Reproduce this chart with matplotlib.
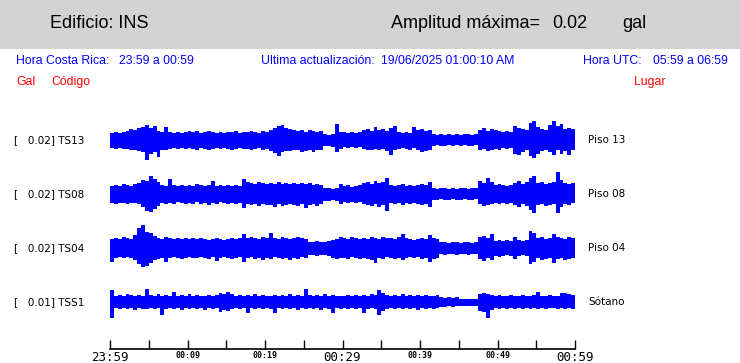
import numpy as np
import matplotlib
matplotlib.use('Agg')
import matplotlib.pyplot as plt
from matplotlib.patches import Rectangle

# --------        data        --------
codes = ['TS13', 'TS08', 'TS04', 'TSS1']
places = ['Piso 13', 'Piso 08', 'Piso 04', 'Sótano']
scales = ['0.02', '0.02', '0.02', '0.01']

tick_minutes = list(range(0, 61, 5))
tick_labels = {0: '23:59', 10: '00:09', 20: '00:19', 30: '00:29',
               40: '00:39', 50: '00:49', 60: '00:59'}

# envelope of each trace, half-minute columns (counts above / below zero)
ts13_up = [7, 8, 7, 8, 9, 11, 10, 12, 13, 15, 12, 14, 9, 8, 13, 8, 7, 8, 7, 8,
           9, 8, 9, 7, 8, 9, 8, 7, 8, 7, 8, 8, 9, 7, 8, 8, 9, 8, 7, 9,
           8, 10, 12, 14, 15, 12, 11, 10, 9, 10, 8, 10, 9, 8, 9, 6, 5, 6, 16, 8,
           8, 7, 8, 7, 8, 10, 11, 9, 13, 10, 11, 9, 12, 14, 8, 7, 8, 7, 13, 10,
           11, 9, 10, 6, 5, 6, 5, 6, 5, 6, 5, 6, 6, 5, 6, 10, 12, 9, 11, 10,
           9, 8, 9, 8, 14, 12, 11, 10, 17, 19, 13, 11, 10, 15, 19, 14, 16, 11, 12, 11]
ts13_dn = [8, 9, 8, 9, 9, 10, 10, 11, 12, 20, 14, 12, 17, 10, 10, 9, 8, 9, 8, 9,
           8, 9, 10, 8, 9, 10, 9, 8, 9, 8, 9, 10, 9, 8, 9, 9, 10, 9, 8, 10,
           9, 11, 13, 16, 12, 11, 11, 10, 10, 12, 11, 10, 12, 10, 10, 6, 6, 7, 12, 9,
           7, 8, 7, 8, 7, 9, 10, 10, 9, 10, 9, 11, 15, 10, 9, 8, 9, 10, 8, 10,
           12, 11, 10, 6, 5, 6, 6, 5, 6, 5, 6, 5, 6, 6, 5, 10, 9, 11, 10, 9,
           10, 8, 9, 8, 14, 15, 12, 10, 16, 18, 14, 11, 10, 12, 15, 10, 14, 11, 15, 10]

ts08_up = [8, 9, 8, 10, 9, 8, 10, 11, 14, 13, 18, 15, 12, 9, 8, 15, 9, 8, 9, 8,
           9, 8, 10, 9, 8, 9, 13, 8, 9, 8, 9, 8, 9, 8, 15, 12, 11, 10, 12, 11,
           10, 11, 10, 12, 10, 11, 10, 11, 10, 11, 10, 11, 9, 10, 9, 6, 6, 5, 6, 10,
           8, 9, 7, 8, 9, 11, 12, 10, 13, 11, 12, 16, 9, 8, 9, 10, 8, 9, 8, 9,
           10, 9, 12, 6, 5, 6, 6, 5, 6, 5, 6, 6, 5, 6, 6, 13, 11, 16, 12, 9,
           10, 9, 8, 9, 11, 13, 10, 12, 16, 18, 11, 12, 10, 11, 12, 22, 14, 11, 10, 11]
ts08_dn = [9, 10, 9, 9, 10, 9, 9, 10, 13, 17, 18, 15, 12, 9, 10, 9, 10, 8, 9, 10,
           9, 10, 8, 10, 9, 11, 9, 10, 8, 9, 10, 9, 10, 9, 14, 10, 11, 10, 12, 10,
           11, 11, 13, 10, 12, 11, 10, 11, 12, 10, 14, 11, 10, 12, 10, 7, 7, 6, 7, 10,
           8, 9, 8, 9, 8, 10, 11, 12, 10, 13, 11, 17, 9, 10, 9, 11, 9, 10, 9, 10,
           11, 10, 13, 6, 6, 5, 6, 6, 5, 6, 6, 5, 6, 6, 5, 10, 12, 11, 10, 9,
           10, 9, 10, 9, 11, 13, 10, 12, 16, 19, 11, 10, 12, 11, 10, 19, 13, 10, 11, 9]

ts04_up = [9, 10, 9, 11, 10, 9, 13, 20, 23, 16, 15, 12, 10, 9, 11, 10, 9, 10, 9, 10,
           9, 10, 9, 10, 9, 8, 9, 10, 9, 8, 9, 10, 9, 10, 14, 10, 11, 10, 9, 11,
           10, 15, 10, 9, 11, 10, 9, 10, 11, 10, 9, 6, 6, 7, 6, 6, 7, 8, 9, 11,
           10, 9, 11, 10, 9, 10, 9, 11, 10, 9, 11, 10, 10, 9, 11, 14, 10, 9, 8, 9,
           10, 9, 13, 10, 9, 6, 6, 5, 6, 6, 5, 6, 6, 5, 6, 11, 12, 10, 14, 7,
           8, 7, 8, 7, 11, 8, 7, 8, 17, 15, 10, 11, 9, 10, 14, 11, 10, 9, 11, 10]
ts04_dn = [14, 10, 9, 10, 9, 10, 12, 16, 19, 18, 15, 12, 11, 10, 14, 10, 9, 10, 11, 10,
           9, 10, 10, 9, 10, 11, 9, 13, 10, 9, 10, 11, 10, 9, 14, 10, 9, 11, 10, 12,
           10, 11, 9, 10, 11, 10, 12, 10, 11, 9, 10, 7, 7, 8, 7, 7, 8, 10, 11, 10,
           10, 11, 9, 10, 11, 10, 11, 12, 15, 10, 11, 9, 10, 11, 10, 12, 10, 9, 10, 9,
           11, 10, 14, 11, 10, 6, 7, 6, 6, 7, 6, 6, 7, 6, 6, 11, 13, 10, 12, 8,
           9, 8, 7, 8, 11, 8, 7, 8, 16, 14, 10, 12, 11, 10, 15, 11, 10, 12, 11, 10]

tss1_up = [12, 6, 7, 6, 8, 7, 6, 7, 6, 13, 7, 6, 8, 6, 7, 6, 10, 6, 7, 6,
           8, 6, 7, 6, 6, 7, 6, 7, 9, 8, 10, 8, 6, 7, 6, 7, 6, 8, 6, 7,
           6, 6, 7, 6, 7, 6, 8, 6, 7, 6, 13, 7, 6, 7, 6, 8, 6, 7, 6, 6,
           6, 7, 6, 7, 6, 7, 6, 8, 7, 12, 9, 7, 6, 7, 6, 8, 6, 7, 6, 7,
           6, 7, 6, 6, 7, 5, 4, 5, 4, 5, 3, 3, 3, 3, 3, 8, 9, 8, 7, 6,
           7, 6, 6, 7, 6, 6, 7, 6, 6, 7, 10, 6, 6, 7, 6, 6, 9, 9, 8, 7]
tss1_dn = [16, 6, 7, 6, 7, 6, 8, 6, 7, 7, 6, 7, 6, 13, 7, 6, 7, 6, 8, 6,
           7, 6, 7, 6, 8, 6, 7, 6, 10, 8, 9, 7, 6, 7, 6, 11, 6, 7, 6, 7,
           6, 7, 11, 6, 7, 6, 7, 6, 8, 6, 7, 6, 7, 6, 8, 6, 7, 11, 6, 7,
           6, 7, 6, 7, 6, 11, 7, 6, 7, 13, 9, 7, 6, 7, 6, 7, 6, 7, 6, 8,
           6, 7, 6, 7, 6, 5, 5, 4, 5, 4, 4, 4, 4, 4, 4, 9, 10, 16, 8, 6,
           7, 6, 7, 6, 7, 6, 7, 6, 7, 6, 7, 6, 7, 6, 6, 7, 6, 7, 6, 7]

envelopes = [(ts13_up, ts13_dn), (ts08_up, ts08_dn), (ts04_up, ts04_dn), (tss1_up, tss1_dn)]

# --------        figure        --------
W, H = 740, 363
fig = plt.figure(figsize=(W / 100, H / 100), dpi=100)
fig.patch.set_facecolor('white')

sans = ['Liberation Sans', 'DejaVu Sans']
dv = ['DejaVu Sans']
mono = ['DejaVu Sans Mono']
blue = '#0000ff'


def fx(px):
    return px / W


def fy(py):
    return 1 - py / H


# header band
fig.patches.append(Rectangle((0, fy(49)), 1, 49 / H, transform=fig.transFigure,
                             facecolor='#d3d3d3', edgecolor='none', zorder=0))
for x, s in [(50, 'Edificio: INS'), (391, 'Amplitud máxima='), (552, '0.02'), (622, 'gal')]:
    fig.text(fx(x), fy(23), s, fontsize=13, family=sans, va='center')

for x, s in [(16, 'Hora Costa Rica:'), (119, '23:59 a 00:59'),
             (261, 'Ultima actualización:'), (381, '19/06/2025 01:00:10 AM'),
             (583, 'Hora UTC:'), (653, '05:59 a 06:59')]:
    fig.text(fx(x), fy(61), s, fontsize=8.8, family=sans, color=blue, va='center')

for x, s in [(16, 'Gal'), (51, 'Código'), (634, 'Lugar')]:
    fig.text(fx(x), fy(82), s, fontsize=8.8, family=sans, color='red', va='center')

# traces axes
ax = fig.add_axes([fx(110), fy(349), fx(575) - fx(110), (349 - 115) / H])
ax.set_xlim(0, 60)
gain = 1 / 54
ax.set_ylim(-47 * gain, 3 + 25 * gain)

n = len(ts13_up)
t = (np.arange(n) + 0.5) * 60 / n
for i, (up, dn) in enumerate(envelopes):
    off = len(envelopes) - 1 - i
    up = np.asarray(up) * gain
    dn = np.asarray(dn) * gain
    ax.bar(t, up + dn, bottom=off - dn, width=60 / n, color=blue, edgecolor='none', linewidth=0)
    ax.text(-96 / 465 * 60, off, f'[   {scales[i]}] {codes[i]}', fontsize=7.5, family=dv,
            va='center', ha='left')
    ax.text(60 + 13 / 465 * 60, off, places[i], fontsize=7.5, family=dv, va='center', ha='left')

for s in ['top', 'left', 'right']:
    ax.spines[s].set_visible(False)
ax.spines['bottom'].set_linewidth(1.2)
ax.set_yticks([])
ax.set_xticks(tick_minutes)
ax.set_xticklabels([tick_labels.get(m, '') for m in tick_minutes], family=mono)
ax.tick_params(axis='x', direction='in', length=6.5, width=1, pad=1.5)
for m, lab in zip(tick_minutes, ax.get_xticklabels()):
    if m in (0, 30, 60):
        lab.set_fontsize(9)
    else:
        lab.set_fontsize(6)
        lab.set_fontweight('bold')
ax.set_facecolor('none')

fig.savefig('out.png', dpi=100, facecolor='white')
